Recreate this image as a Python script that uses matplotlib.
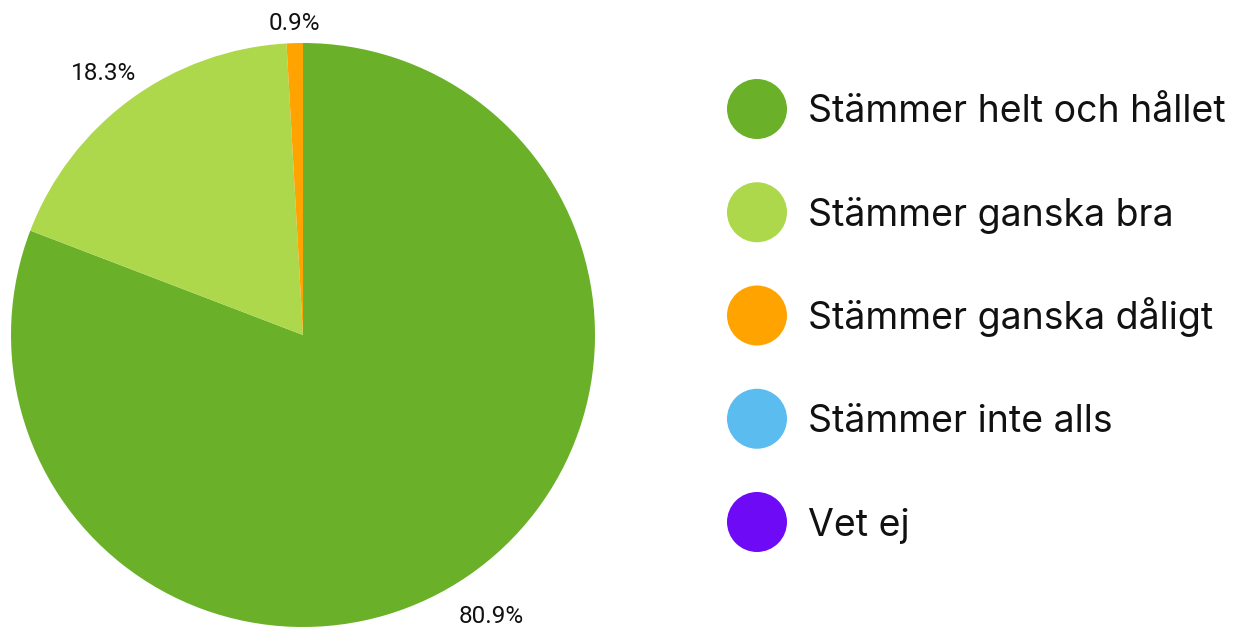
import matplotlib
matplotlib.use("Agg")
import matplotlib.pyplot as plt
import numpy as np

categories = ["Stämmer helt och hållet", "Stämmer ganska bra", "Stämmer ganska dåligt",
              "Stämmer inte alls", "Vet ej"]
values = [80.9, 18.3, 0.9, 0.0, 0.0]
labels = ["80.9%", "18.3%", "0.9%", "", ""]
colors = ["#6AB129", "#ADD84C", "#FFA300", "#5BBCF0", "#6E0AF5"]

W, H = 1239, 627
fig = plt.figure(figsize=(W / 100, H / 100), dpi=100)

# pie axes: center (303,335) px, radius 292 px
cx, cy, r = 303, 335, 292
ax = fig.add_axes([(cx - r) / W, (H - cy - r) / H, 2 * r / W, 2 * r / H])
pie_vals = [v for v in values if v > 0]
pie_cols = [c for v, c in zip(values, colors) if v > 0]
pie_labs = [l for v, l in zip(values, labels) if v > 0]
wedges, texts = ax.pie(pie_vals, colors=pie_cols, labels=pie_labs, startangle=90,
                       counterclock=False, radius=1, labeldistance=1.14,
                       wedgeprops=dict(linewidth=0),
                       textprops=dict(fontsize=17.5, family="Roboto", color="#111111"))
for t in texts:
    t.set_ha("center")
    t.set_va("center")
    t.set_clip_on(False)
    x, y = t.get_position()
    t.set_position((x, y - 0.026))
x, y = texts[2].get_position()
texts[2].set_position((x * 0.95, y * 0.958))
x, y = texts[1].get_position()
texts[1].set_position((x - 0.01, y))
ax.set_xlim(-1, 1)
ax.set_ylim(-1, 1)
ax.set_aspect("equal")
ax.axis("off")

# legend axes in pixel coords
lax = fig.add_axes([0, 0, 1, 1])
lax.set_xlim(0, W)
lax.set_ylim(H, 0)
lax.axis("off")
ys = 109 + np.arange(len(categories)) * 103.25
lax.scatter([757] * len(categories), ys, s=(60 * 0.72) ** 2, c=colors, linewidths=0)
for y, name in zip(ys, categories):
    lax.text(808, y + 13.5, name, fontsize=27, family="Inter", va="baseline", ha="left",
             color="#111111")

fig.savefig("out.png", dpi=100, facecolor="white")
